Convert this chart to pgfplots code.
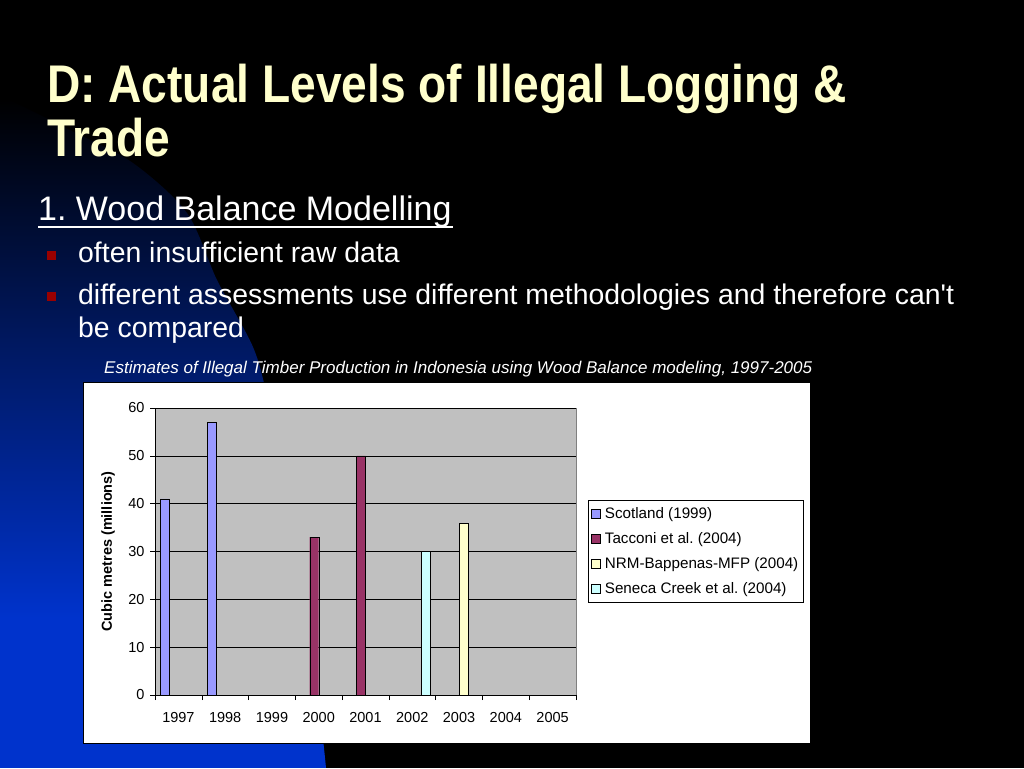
\documentclass[border=0pt]{standalone}
\usepackage{fontspec}
\setmainfont{Liberation Sans}
\newfontfamily\titlefont[FakeStretch=0.87]{Liberation Sans}
\newfontfamily\plainfont{Liberation Sans}
\usepackage{pgfplots}
\pgfplotsset{compat=1.18}
\usepackage{graphicx}
\frenchspacing

\definecolor{titleyellow}{RGB}{255,255,204}
\definecolor{bulletred}{RGB}{153,0,0}
\definecolor{deepblue}{RGB}{0,51,204}
\definecolor{midblue}{RGB}{0,34,140}
\definecolor{plotgray}{RGB}{192,192,192}
\definecolor{scotland}{RGB}{153,153,255}
\definecolor{tacconi}{RGB}{153,51,102}
\definecolor{nrm}{RGB}{255,255,204}
\definecolor{seneca}{RGB}{204,255,255}

\begin{document}
\begin{tikzpicture}
% slide background
\fill[black] (0pt,0pt) rectangle (1024pt,768pt);
\useasboundingbox (0pt,0pt) rectangle (1024pt,768pt);
\begin{scope}
  \clip plot[smooth] coordinates {(0pt,673pt) (70pt,638pt) (133pt,605pt) (187pt,555pt)
        (217pt,488pt) (253pt,421pt) (268pt,368pt) (290pt,268pt) (310pt,148pt) (326pt,0pt)}
        -- (0pt,0pt) -- cycle;
  \fill[deepblue] (0pt,0pt) rectangle (330pt,151pt);
  \shade[top color=black, middle color=midblue, bottom color=deepblue]
        (0pt,150pt) rectangle (330pt,670pt);
\end{scope}

% title
\node[anchor=base west, inner sep=0pt, text=titleyellow]
  at (47pt,665pt) {\titlefont\bfseries\fontsize{53}{60}\selectfont D: Actual Levels of Illegal Logging \&};
\node[anchor=base west, inner sep=0pt, text=titleyellow]
  at (47pt,611pt) {\titlefont\bfseries\fontsize{53}{60}\selectfont Trade};

% sub heading and bullets
\node[anchor=base west, inner sep=0pt, text=white]
  at (38pt,547pt) {\fontsize{34}{40}\selectfont 1. Wood Balance Modelling};
\draw[white, line width=1.5pt] (38pt,541pt) -- (453pt,541pt);
\fill[bulletred] (47pt,508pt) rectangle (56pt,517pt);
\fill[bulletred] (47pt,467pt) rectangle (56pt,476pt);
\node[anchor=base west, inner sep=0pt, text=white]
  at (78pt,505pt) {\fontsize{28.4}{33}\selectfont often insufficient raw data};
\node[anchor=base west, inner sep=0pt, text=white]
  at (78pt,463pt) {\plainfont\fontsize{28.4}{33}\selectfont different assessments use different methodologies and therefore can't};
\node[anchor=base west, inner sep=0pt, text=white]
  at (78pt,430pt) {\fontsize{28.4}{33}\selectfont be compared};

% chart caption
\node[anchor=base west, inner sep=0pt, text=white]
  at (104pt,394pt) {\resizebox{708pt}{!}{\itshape\fontsize{16}{19}\selectfont Estimates of Illegal Timber Production in Indonesia using Wood Balance modeling, 1997-2005}};

% chart area
\filldraw[fill=white, draw=black] (83pt,25pt) rectangle (810pt,386pt);

\begin{axis}[
    at={(155pt,73pt)}, anchor=south west,
    scale only axis, width=421pt, height=287pt,
    font=\fontsize{14.5}{17}\selectfont,
    /pgf/number format/assume math mode=true,
    axis background/.style={fill=plotgray},
    ybar=0pt, bar width=9pt,
    xmin=-0.5, xmax=8.5, ymin=0, ymax=60,
    xtick={0,...,8},
    xticklabels={1997,1998,1999,2000,2001,2002,2003,2004,2005},
    minor xtick={-0.5,0.5,...,8.5},
    major x tick style={draw=none},
    ytick={0,10,...,60},
    tick align=outside,
    minor tick length=5pt, major tick length=5pt,
    tick style={black, thin},
    x tick label style={yshift=-9pt},
    y tick label style={xshift=-2pt},
    ymajorgrids, grid style={black, thin},
    axis x line*=bottom, axis y line*=left,
    axis line style={black, thin},
    ylabel={\bfseries Cubic metres (millions)},
    ylabel style={at={(rel axis cs:0,0.5)}, anchor=center, yshift=47pt},
    legend style={at={(rel axis cs:1.028,0.679)}, anchor=north west,
        draw=black, fill=white, inner xsep=3pt, inner ysep=5pt, row sep=8.5pt,
        font=\fontsize{15.2}{17}\selectfont,
        nodes={inner xsep=1.5pt}},
    legend cell align=left,
    legend image code/.code={\draw[#1] (1pt,-4.5pt) rectangle (10pt,4.5pt);
        \path (13pt,0pt);},
    after end axis/.code={\draw[gray] (rel axis cs:1,0) -- (rel axis cs:1,1);},
]
\addplot[fill=scotland, draw=black] coordinates {(0,41) (1,57)};
\addplot[fill=tacconi, draw=black] coordinates {(3,33) (4,50)};
\addplot[fill=nrm, draw=black] coordinates {(6,36)};
\addplot[fill=seneca, draw=black] coordinates {(5,30)};
\legend{Scotland (1999),Tacconi et al. (2004),NRM-Bappenas-MFP (2004),Seneca Creek et al. (2004)}
\end{axis}
\end{tikzpicture}
\end{document}
